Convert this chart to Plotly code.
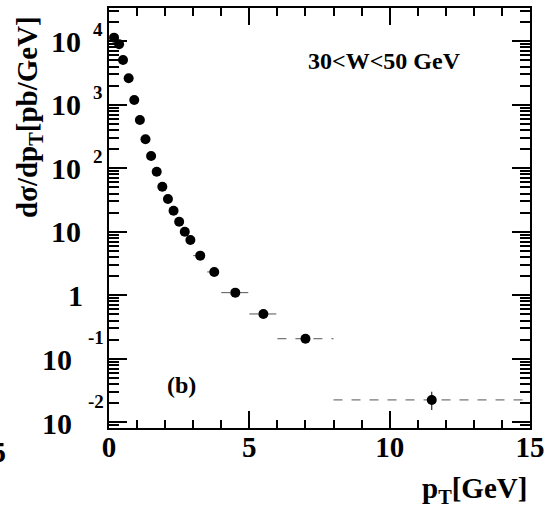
import math
import plotly.graph_objects as go

# ---- data ----
pt = [0.18, 0.36, 0.5, 0.7, 0.9, 1.1, 1.3, 1.5, 1.7, 1.9, 2.1, 2.3, 2.5, 2.7, 2.9,
      3.25, 3.75, 4.5, 5.5, 7.0, 11.5]
pt_lo = [0.1, 0.25, 0.4, 0.6, 0.8, 1.0, 1.2, 1.4, 1.6, 1.8, 2.0, 2.2, 2.4, 2.6, 2.8,
         3.0, 3.5, 4.0, 5.0, 6.0, 8.0]
pt_hi = [0.25, 0.4, 0.6, 0.8, 1.0, 1.2, 1.4, 1.6, 1.8, 2.0, 2.2, 2.4, 2.6, 2.8, 3.0,
         3.5, 4.0, 5.0, 6.0, 8.0, 15.0]
xsec = [11400, 8970, 5080, 2610, 1190, 577, 286, 156, 88.4, 51.3, 32.9, 21.5, 14.4,
        10.0, 7.43, 4.21, 2.33, 1.10, 0.508, 0.207, 0.0225]
err_up = [200, 150, 90, 45, 22, 11, 6, 3.5, 2.0, 1.2, 0.8, 0.55, 0.4, 0.3, 0.22,
          0.13, 0.08, 0.04, 0.025, 0.015, 0.0078]
err_dn = [200, 150, 90, 45, 22, 11, 6, 3.5, 2.0, 1.2, 0.8, 0.55, 0.4, 0.3, 0.22,
          0.13, 0.08, 0.04, 0.025, 0.015, 0.0069]

x_ticks = [0, 5, 10, 15]
y_decades = [1e-2, 1e-1, 1, 10, 1e2, 1e3, 1e4]
y_minor = [m * d for d in [1e-3, 1e-2, 1e-1, 1, 10, 1e2, 1e3, 1e4] for m in range(2, 10)]

FONT = "Liberation Serif"

fig = go.Figure()

# horizontal (bin-width) dashed bars
hx, hy = [], []
for lo, hi, v in zip(pt_lo, pt_hi, xsec):
    hx += [lo, hi, None]
    hy += [v, v, None]
fig.add_trace(go.Scatter(x=hx, y=hy, mode="lines",
                         line=dict(color="#555555", width=1, dash="dash"),
                         hoverinfo="skip", showlegend=False))

fig.add_trace(go.Scatter(
    x=pt, y=xsec, mode="markers",
    marker=dict(symbol="circle", size=10, color="black"),
    error_y=dict(type="data", array=err_up, arrayminus=err_dn, color="black",
                 thickness=1, width=0),
    showlegend=False))

fig.update_xaxes(
    range=[0, 15], tickvals=x_ticks, ticktext=["<b>%d</b>" % t for t in x_ticks],
    ticks="inside", ticklen=17, tickwidth=1.5, tickcolor="black",
    minor=dict(dtick=1, ticks="inside", ticklen=8, tickwidth=1.5, tickcolor="black"),
    showline=True, linewidth=2, linecolor="black", mirror="ticks",
    showgrid=False, zeroline=False, automargin=False,
    tickfont=dict(family=FONT, size=29, color="black"),
    ticklabelstandoff=-8,
)
fig.update_yaxes(
    type="log", range=[-2.09, 4.524], tickvals=y_decades, showticklabels=False,
    ticks="inside", ticklen=18, tickwidth=1.5, tickcolor="black",
    minor=dict(tickvals=y_minor, ticks="inside", ticklen=10, tickwidth=1.5,
               tickcolor="black"),
    showline=True, linewidth=2, linecolor="black", mirror="ticks",
    showgrid=False, zeroline=False, automargin=False,
)

W, H = 546, 509
L, R, T, B = 109, 16, 8, 81
pw, ph = W - L - R, H - T - B


def px2paper_x(px):
    return (px - L) / pw


def px2paper_y(py):
    return 1 - (py - T) / ph


ann = []
lab = dict(family=FONT, size=30, color="black")
sup = dict(family=FONT, size=19, color="black")
# y tick labels
for v, exp_txt in [(1e4, "4"), (1e3, "3"), (1e2, "2")]:
    ann.append(dict(x=px2paper_x(83), xref="paper", y=math.log10(v), yref="y",
                    text="<b>10</b>", showarrow=False, xanchor="right", yanchor="middle",
                    font=lab))
    ann.append(dict(x=px2paper_x(91), xref="paper", y=math.log10(v), yref="y",
                    yshift=12, text="<b>%s</b>" % exp_txt, showarrow=False,
                    xanchor="left", yanchor="middle", font=sup))
ann.append(dict(x=px2paper_x(83), xref="paper", y=1, yref="y", text="<b>10</b>",
                showarrow=False, xanchor="right", yanchor="middle", font=lab))
ann.append(dict(x=px2paper_x(85), xref="paper", y=0, yref="y", text="<b>1</b>",
                showarrow=False, xanchor="right", yanchor="middle", font=lab))
for v in [-1, -2]:
    ann.append(dict(x=px2paper_x(74), xref="paper", y=v, yref="y", yshift=-1,
                    text="<b>10</b>", showarrow=False, xanchor="right",
                    yanchor="middle", font=lab))
    ann.append(dict(x=px2paper_x(106), xref="paper", y=v, yref="y", yshift=21,
                    text="<b>%d</b>" % v, showarrow=False, xanchor="right",
                    yanchor="middle", font=sup))
# stray label at left edge
ann.append(dict(x=px2paper_x(8), xref="paper", y=px2paper_y(451), yref="paper",
                text="<b>5</b>", showarrow=False, xanchor="right", yanchor="middle",
                font=lab))
# axis titles
ann.append(dict(x=px2paper_x(29), xref="paper", y=px2paper_y(117), yref="paper",
                text="<b>dσ/dp<sub>T</sub>[pb/GeV]</b>", textangle=-90,
                showarrow=False, xanchor="center", yanchor="middle",
                font=dict(family=FONT, size=29, color="black")))
ann.append(dict(x=px2paper_x(529), xref="paper", y=px2paper_y(490), yref="paper",
                text="<b>p<sub>T</sub>[GeV]</b>", showarrow=False,
                xanchor="right", yanchor="middle",
                font=dict(family=FONT, size=29, color="black")))
# labels in plot
ann.append(dict(x=px2paper_x(384), xref="paper", y=px2paper_y(61), yref="paper",
                text="<b>30&lt;W&lt;50 GeV</b>", showarrow=False,
                xanchor="center", yanchor="middle",
                font=dict(family=FONT, size=24, color="black")))
ann.append(dict(x=px2paper_x(181), xref="paper", y=px2paper_y(385), yref="paper",
                text="<b>(b)</b>", showarrow=False, xanchor="center", yanchor="middle",
                font=dict(family=FONT, size=24, color="black")))

fig.update_layout(
    width=W, height=H, margin=dict(l=L, r=R, t=T, b=B),
    paper_bgcolor="white", plot_bgcolor="white",
    annotations=ann, showlegend=False,
)

fig.write_html("out.html")
